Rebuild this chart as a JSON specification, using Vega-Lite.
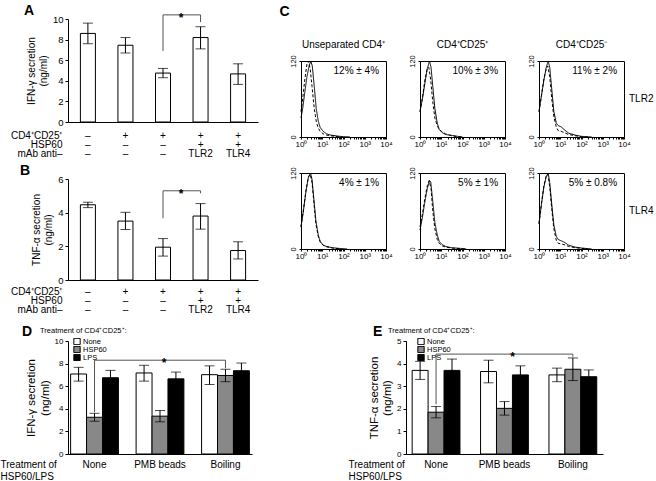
{
"$schema": "https://vega.github.io/schema/vega-lite/v6.json",
"padding": {"left": 0, "top": 3, "right": 0, "bottom": 0},
"spacing": 10,
"resolve": {"scale": {"fill": "independent"}, "legend": {"fill": "independent"}},
"vconcat": [
{"hconcat": [
 {"vconcat": [
  {"title": {"text": "A", "frame": "group", "dx": -44, "offset": -6},
   "width": 190, "height": 103, "view": {"stroke": null},
   "data": {"values": [
    {"k": "1|–|–|–", "v": 8.6, "lo": 7.6, "hi": 9.6},
    {"k": "2|+|–|–", "v": 7.45, "lo": 6.7, "hi": 8.2},
    {"k": "3|+|–|–", "v": 4.75, "lo": 4.3, "hi": 5.2},
    {"k": "4|+|+|TLR2", "v": 8.2, "lo": 7.1, "hi": 9.25},
    {"k": "5|+|+|TLR4", "v": 4.67, "lo": 3.65, "hi": 5.65}]},
   "encoding": {"x": {"field": "k", "type": "nominal", "sort": null,
     "scale": {"paddingInner": 0.6, "paddingOuter": 0.33},
     "axis": {"ticks": false, "labelAngle": 0, "labelExpr": "slice(split(datum.label,'|'),1)", "labelFontSize": 10, "labelLineHeight": 9, "labelPadding": 8,
       "title": ["CD4⁺CD25⁺", "HSP60", "mAb anti–"], "titleAlign": "right", "titleAnchor": "start", "titleX": -6, "titleY": 8, "titleBaseline": "top", "titleLineHeight": 9, "titleFontSize": 10}},
     "y": {"type": "quantitative", "scale": {"domain": [0, 10], "nice": false},
       "axis": {"values": [0, 2, 4, 6, 8, 10], "labelOverlap": false, "tickSize": 3, "labelFontSize": 9.5, "title": ["IFN-γ secretion", "(ng/ml)"], "titleFontSize": 10, "titlePadding": 4}}},
   "layer": [
    {"mark": {"type": "bar", "fill": "white", "stroke": "black", "strokeWidth": 1}, "encoding": {"y": {"field": "v"}}},
    {"mark": {"type": "rule", "color": "black"}, "encoding": {"y": {"field": "lo"}, "y2": {"field": "hi"}}},
    {"mark": {"type": "tick", "color": "black", "size": 10, "thickness": 1}, "encoding": {"y": {"field": "lo"}}},
    {"mark": {"type": "tick", "color": "black", "size": 10, "thickness": 1}, "encoding": {"y": {"field": "hi"}}},
    {"data": {"values": [
      {"k": "3|+|–|–", "y": 6.9, "o": 1}, {"k": "3|+|–|–", "y": 10.4, "o": 2},
      {"k": "4|+|+|TLR2", "y": 10.4, "o": 3}, {"k": "4|+|+|TLR2", "y": 9.7, "o": 4}]},
     "mark": {"type": "line", "color": "#555", "strokeWidth": 1},
     "encoding": {"y": {"field": "y"}, "order": {"field": "o"}}},
    {"data": {"values": [{"k": "3|+|–|–", "y": 10.4, "m": "*"}]},
     "mark": {"type": "text", "dx": 18, "dy": 3, "fontSize": 12, "fontWeight": "bold"},
     "encoding": {"y": {"field": "y"}, "text": {"field": "m"}}}
   ]},
  {"title": {"text": "B", "frame": "group", "dx": -48, "offset": -4},
   "width": 190, "height": 101, "view": {"stroke": null},
   "data": {"values": [
    {"k": "1|–|–|–", "v": 4.47, "lo": 4.3, "hi": 4.62},
    {"k": "2|+|–|–", "v": 3.5, "lo": 3.0, "hi": 4.02},
    {"k": "3|+|–|–", "v": 1.95, "lo": 1.42, "hi": 2.46},
    {"k": "4|+|+|TLR2", "v": 3.8, "lo": 3.02, "hi": 4.54},
    {"k": "5|+|+|TLR4", "v": 1.75, "lo": 1.25, "hi": 2.27}]},
   "encoding": {"x": {"field": "k", "type": "nominal", "sort": null,
     "scale": {"paddingInner": 0.6, "paddingOuter": 0.33},
     "axis": {"ticks": false, "labelAngle": 0, "labelExpr": "slice(split(datum.label,'|'),1)", "labelFontSize": 10, "labelLineHeight": 9, "labelPadding": 6,
       "title": ["CD4⁺CD25⁺", "HSP60", "mAb anti–"], "titleAlign": "right", "titleAnchor": "start", "titleX": -6, "titleY": 6, "titleBaseline": "top", "titleLineHeight": 9, "titleFontSize": 10}},
     "y": {"type": "quantitative", "scale": {"domain": [0, 6], "nice": false},
       "axis": {"values": [0, 2, 4, 6], "labelOverlap": false, "tickSize": 3, "labelFontSize": 9.5, "title": ["TNF-α secretion", "(ng/ml)"], "titleFontSize": 10, "titlePadding": 4}}},
   "layer": [
    {"mark": {"type": "bar", "fill": "white", "stroke": "black", "strokeWidth": 1}, "encoding": {"y": {"field": "v"}}},
    {"mark": {"type": "rule", "color": "black"}, "encoding": {"y": {"field": "lo"}, "y2": {"field": "hi"}}},
    {"mark": {"type": "tick", "color": "black", "size": 10, "thickness": 1}, "encoding": {"y": {"field": "lo"}}},
    {"mark": {"type": "tick", "color": "black", "size": 10, "thickness": 1}, "encoding": {"y": {"field": "hi"}}},
    {"data": {"values": [
      {"k": "3|+|–|–", "y": 3.67, "o": 1}, {"k": "3|+|–|–", "y": 5.3, "o": 2},
      {"k": "4|+|+|TLR2", "y": 5.3, "o": 3}, {"k": "4|+|+|TLR2", "y": 5.15, "o": 4}]},
     "mark": {"type": "line", "color": "#555", "strokeWidth": 1},
     "encoding": {"y": {"field": "y"}, "order": {"field": "o"}}},
    {"data": {"values": [{"k": "3|+|–|–", "y": 5.3, "m": "*"}]},
     "mark": {"type": "text", "dx": 18, "dy": 3, "fontSize": 12, "fontWeight": "bold"},
     "encoding": {"y": {"field": "y"}, "text": {"field": "m"}}}
   ]}
 ], "spacing": 6},
 {"vconcat": [
  {"width": 1, "height": 1, "view": {"stroke": null},
   "data": {"values": [{"panel": "C"}]},
   "mark": {"type": "text", "align": "right", "baseline": "alphabetic", "fontSize": 14, "fontWeight": "bold", "dx": -12, "dy": -4},
   "encoding": {"text": {"field": "panel"}}},
  {
  "data": {"values": [
   {"p":"U","r":"TLR2","s":"a","x":1,"y":30},{"p":"U","r":"TLR2","s":"a","x":1.2,"y":45},{"p":"U","r":"TLR2","s":"a","x":1.5,"y":70},{"p":"U","r":"TLR2","s":"a","x":1.9,"y":95},{"p":"U","r":"TLR2","s":"a","x":2.4,"y":112},{"p":"U","r":"TLR2","s":"a","x":2.9,"y":120},{"p":"U","r":"TLR2","s":"a","x":3.4,"y":112},{"p":"U","r":"TLR2","s":"a","x":4.2,"y":80},{"p":"U","r":"TLR2","s":"a","x":5.2,"y":45},{"p":"U","r":"TLR2","s":"a","x":6.5,"y":25},{"p":"U","r":"TLR2","s":"a","x":8,"y":15},{"p":"U","r":"TLR2","s":"a","x":11,"y":9},{"p":"U","r":"TLR2","s":"a","x":16,"y":5},{"p":"U","r":"TLR2","s":"a","x":25,"y":3},{"p":"U","r":"TLR2","s":"a","x":50,"y":1.5},{"p":"U","r":"TLR2","s":"a","x":100,"y":0.5},{"p":"U","r":"TLR2","s":"a","x":200,"y":0},
   {"p":"U","r":"TLR2","s":"b","x":1,"y":40},{"p":"U","r":"TLR2","s":"b","x":1.2,"y":60},{"p":"U","r":"TLR2","s":"b","x":1.5,"y":90},{"p":"U","r":"TLR2","s":"b","x":1.9,"y":115},{"p":"U","r":"TLR2","s":"b","x":2.2,"y":120},{"p":"U","r":"TLR2","s":"b","x":2.7,"y":108},{"p":"U","r":"TLR2","s":"b","x":3.3,"y":80},{"p":"U","r":"TLR2","s":"b","x":4.2,"y":45},{"p":"U","r":"TLR2","s":"b","x":5.2,"y":25},{"p":"U","r":"TLR2","s":"b","x":6.5,"y":14},{"p":"U","r":"TLR2","s":"b","x":8,"y":9},{"p":"U","r":"TLR2","s":"b","x":11,"y":5},{"p":"U","r":"TLR2","s":"b","x":16,"y":3},{"p":"U","r":"TLR2","s":"b","x":30,"y":1.5},{"p":"U","r":"TLR2","s":"b","x":80,"y":0},
   {"p":"P","r":"TLR2","s":"a","x":1,"y":40},{"p":"P","r":"TLR2","s":"a","x":1.3,"y":60},{"p":"P","r":"TLR2","s":"a","x":1.7,"y":85},{"p":"P","r":"TLR2","s":"a","x":2.2,"y":108},{"p":"P","r":"TLR2","s":"a","x":2.8,"y":120},{"p":"P","r":"TLR2","s":"a","x":3.3,"y":110},{"p":"P","r":"TLR2","s":"a","x":4,"y":80},{"p":"P","r":"TLR2","s":"a","x":5,"y":45},{"p":"P","r":"TLR2","s":"a","x":6.5,"y":22},{"p":"P","r":"TLR2","s":"a","x":8,"y":12},{"p":"P","r":"TLR2","s":"a","x":11,"y":7},{"p":"P","r":"TLR2","s":"a","x":16,"y":4},{"p":"P","r":"TLR2","s":"a","x":25,"y":3},{"p":"P","r":"TLR2","s":"a","x":40,"y":2},{"p":"P","r":"TLR2","s":"a","x":60,"y":1},{"p":"P","r":"TLR2","s":"a","x":100,"y":0},
   {"p":"P","r":"TLR2","s":"b","x":1,"y":40},{"p":"P","r":"TLR2","s":"b","x":1.3,"y":62},{"p":"P","r":"TLR2","s":"b","x":1.7,"y":90},{"p":"P","r":"TLR2","s":"b","x":2.2,"y":108},{"p":"P","r":"TLR2","s":"b","x":2.6,"y":110},{"p":"P","r":"TLR2","s":"b","x":3.2,"y":90},{"p":"P","r":"TLR2","s":"b","x":4,"y":55},{"p":"P","r":"TLR2","s":"b","x":5,"y":30},{"p":"P","r":"TLR2","s":"b","x":6.5,"y":18},{"p":"P","r":"TLR2","s":"b","x":8,"y":12},{"p":"P","r":"TLR2","s":"b","x":11,"y":8},{"p":"P","r":"TLR2","s":"b","x":16,"y":5},{"p":"P","r":"TLR2","s":"b","x":30,"y":2},{"p":"P","r":"TLR2","s":"b","x":60,"y":0.5},{"p":"P","r":"TLR2","s":"b","x":100,"y":0},
   {"p":"M","r":"TLR2","s":"a","x":1,"y":40},{"p":"M","r":"TLR2","s":"a","x":1.3,"y":65},{"p":"M","r":"TLR2","s":"a","x":1.7,"y":90},{"p":"M","r":"TLR2","s":"a","x":2.2,"y":110},{"p":"M","r":"TLR2","s":"a","x":2.7,"y":120},{"p":"M","r":"TLR2","s":"a","x":3.2,"y":110},{"p":"M","r":"TLR2","s":"a","x":4,"y":75},{"p":"M","r":"TLR2","s":"a","x":5,"y":40},{"p":"M","r":"TLR2","s":"a","x":6.5,"y":22},{"p":"M","r":"TLR2","s":"a","x":8,"y":18},{"p":"M","r":"TLR2","s":"a","x":11,"y":16},{"p":"M","r":"TLR2","s":"a","x":15,"y":12},{"p":"M","r":"TLR2","s":"a","x":25,"y":6},{"p":"M","r":"TLR2","s":"a","x":50,"y":3},{"p":"M","r":"TLR2","s":"a","x":100,"y":1},{"p":"M","r":"TLR2","s":"a","x":300,"y":0},
   {"p":"M","r":"TLR2","s":"b","x":1,"y":40},{"p":"M","r":"TLR2","s":"b","x":1.3,"y":65},{"p":"M","r":"TLR2","s":"b","x":1.7,"y":92},{"p":"M","r":"TLR2","s":"b","x":2.2,"y":108},{"p":"M","r":"TLR2","s":"b","x":2.6,"y":112},{"p":"M","r":"TLR2","s":"b","x":3.2,"y":95},{"p":"M","r":"TLR2","s":"b","x":4,"y":60},{"p":"M","r":"TLR2","s":"b","x":5,"y":32},{"p":"M","r":"TLR2","s":"b","x":6.5,"y":16},{"p":"M","r":"TLR2","s":"b","x":8,"y":10},{"p":"M","r":"TLR2","s":"b","x":11,"y":9},{"p":"M","r":"TLR2","s":"b","x":15,"y":7},{"p":"M","r":"TLR2","s":"b","x":25,"y":4},{"p":"M","r":"TLR2","s":"b","x":50,"y":2},{"p":"M","r":"TLR2","s":"b","x":100,"y":0.5},{"p":"M","r":"TLR2","s":"b","x":200,"y":0},
   {"p":"U","r":"TLR4","s":"a","x":1,"y":35},{"p":"U","r":"TLR4","s":"a","x":1.3,"y":60},{"p":"U","r":"TLR4","s":"a","x":1.7,"y":90},{"p":"U","r":"TLR4","s":"a","x":2.2,"y":112},{"p":"U","r":"TLR4","s":"a","x":2.8,"y":120},{"p":"U","r":"TLR4","s":"a","x":3.3,"y":110},{"p":"U","r":"TLR4","s":"a","x":4,"y":80},{"p":"U","r":"TLR4","s":"a","x":5,"y":45},{"p":"U","r":"TLR4","s":"a","x":6.5,"y":22},{"p":"U","r":"TLR4","s":"a","x":8,"y":12},{"p":"U","r":"TLR4","s":"a","x":11,"y":6},{"p":"U","r":"TLR4","s":"a","x":16,"y":4},{"p":"U","r":"TLR4","s":"a","x":30,"y":2},{"p":"U","r":"TLR4","s":"a","x":60,"y":1},{"p":"U","r":"TLR4","s":"a","x":150,"y":0},
   {"p":"U","r":"TLR4","s":"b","x":1,"y":35},{"p":"U","r":"TLR4","s":"b","x":1.3,"y":62},{"p":"U","r":"TLR4","s":"b","x":1.7,"y":92},{"p":"U","r":"TLR4","s":"b","x":2.2,"y":114},{"p":"U","r":"TLR4","s":"b","x":2.7,"y":118},{"p":"U","r":"TLR4","s":"b","x":3.3,"y":105},{"p":"U","r":"TLR4","s":"b","x":4,"y":75},{"p":"U","r":"TLR4","s":"b","x":5,"y":40},{"p":"U","r":"TLR4","s":"b","x":6.5,"y":20},{"p":"U","r":"TLR4","s":"b","x":8,"y":11},{"p":"U","r":"TLR4","s":"b","x":11,"y":6},{"p":"U","r":"TLR4","s":"b","x":16,"y":3.5},{"p":"U","r":"TLR4","s":"b","x":30,"y":1.5},{"p":"U","r":"TLR4","s":"b","x":80,"y":0},
   {"p":"P","r":"TLR4","s":"a","x":1,"y":30},{"p":"P","r":"TLR4","s":"a","x":1.3,"y":50},{"p":"P","r":"TLR4","s":"a","x":1.7,"y":75},{"p":"P","r":"TLR4","s":"a","x":2.2,"y":95},{"p":"P","r":"TLR4","s":"a","x":2.8,"y":108},{"p":"P","r":"TLR4","s":"a","x":3.2,"y":106},{"p":"P","r":"TLR4","s":"a","x":4,"y":75},{"p":"P","r":"TLR4","s":"a","x":5,"y":42},{"p":"P","r":"TLR4","s":"a","x":6.5,"y":22},{"p":"P","r":"TLR4","s":"a","x":8,"y":12},{"p":"P","r":"TLR4","s":"a","x":11,"y":7},{"p":"P","r":"TLR4","s":"a","x":16,"y":4},{"p":"P","r":"TLR4","s":"a","x":30,"y":2},{"p":"P","r":"TLR4","s":"a","x":80,"y":1},{"p":"P","r":"TLR4","s":"a","x":150,"y":0},
   {"p":"P","r":"TLR4","s":"b","x":1,"y":35},{"p":"P","r":"TLR4","s":"b","x":1.3,"y":55},{"p":"P","r":"TLR4","s":"b","x":1.7,"y":80},{"p":"P","r":"TLR4","s":"b","x":2.2,"y":100},{"p":"P","r":"TLR4","s":"b","x":2.7,"y":108},{"p":"P","r":"TLR4","s":"b","x":3.3,"y":95},{"p":"P","r":"TLR4","s":"b","x":4,"y":60},{"p":"P","r":"TLR4","s":"b","x":5,"y":32},{"p":"P","r":"TLR4","s":"b","x":6.5,"y":15},{"p":"P","r":"TLR4","s":"b","x":8,"y":9},{"p":"P","r":"TLR4","s":"b","x":11,"y":5},{"p":"P","r":"TLR4","s":"b","x":16,"y":3},{"p":"P","r":"TLR4","s":"b","x":30,"y":1.5},{"p":"P","r":"TLR4","s":"b","x":80,"y":0.5},{"p":"P","r":"TLR4","s":"b","x":150,"y":0},
   {"p":"M","r":"TLR4","s":"a","x":1,"y":40},{"p":"M","r":"TLR4","s":"a","x":1.3,"y":70},{"p":"M","r":"TLR4","s":"a","x":1.7,"y":98},{"p":"M","r":"TLR4","s":"a","x":2.2,"y":115},{"p":"M","r":"TLR4","s":"a","x":2.7,"y":120},{"p":"M","r":"TLR4","s":"a","x":3.2,"y":105},{"p":"M","r":"TLR4","s":"a","x":4,"y":70},{"p":"M","r":"TLR4","s":"a","x":5,"y":38},{"p":"M","r":"TLR4","s":"a","x":6.5,"y":20},{"p":"M","r":"TLR4","s":"a","x":8,"y":15},{"p":"M","r":"TLR4","s":"a","x":11,"y":13},{"p":"M","r":"TLR4","s":"a","x":15,"y":11},{"p":"M","r":"TLR4","s":"a","x":25,"y":6},{"p":"M","r":"TLR4","s":"a","x":50,"y":3},{"p":"M","r":"TLR4","s":"a","x":100,"y":1.5},{"p":"M","r":"TLR4","s":"a","x":300,"y":0},
   {"p":"M","r":"TLR4","s":"b","x":1,"y":40},{"p":"M","r":"TLR4","s":"b","x":1.3,"y":72},{"p":"M","r":"TLR4","s":"b","x":1.7,"y":100},{"p":"M","r":"TLR4","s":"b","x":2.2,"y":116},{"p":"M","r":"TLR4","s":"b","x":2.6,"y":118},{"p":"M","r":"TLR4","s":"b","x":3.2,"y":98},{"p":"M","r":"TLR4","s":"b","x":4,"y":62},{"p":"M","r":"TLR4","s":"b","x":5,"y":32},{"p":"M","r":"TLR4","s":"b","x":6.5,"y":14},{"p":"M","r":"TLR4","s":"b","x":8,"y":9},{"p":"M","r":"TLR4","s":"b","x":11,"y":8},{"p":"M","r":"TLR4","s":"b","x":15,"y":7},{"p":"M","r":"TLR4","s":"b","x":25,"y":4},{"p":"M","r":"TLR4","s":"b","x":50,"y":2},{"p":"M","r":"TLR4","s":"b","x":100,"y":1},{"p":"M","r":"TLR4","s":"b","x":200,"y":0},
   {"p":"U","r":"TLR2","t":"12% ± 4%"},{"p":"P","r":"TLR2","t":"10% ± 3%"},{"p":"M","r":"TLR2","t":"11% ± 2%"},
   {"p":"U","r":"TLR4","t":"4% ± 1%"},{"p":"P","r":"TLR4","t":"5% ± 1%"},{"p":"M","r":"TLR4","t":"5% ± 0.8%"}
  ]},
  "facet": {
   "column": {"field": "p", "type": "nominal", "sort": ["U", "P", "M"],
     "header": {"title": null, "labelFontSize": 10, "labelPadding": 4, "labelExpr": "datum.value == 'U' ? 'Unseparated CD4⁺' : datum.value == 'P' ? 'CD4⁺CD25⁺' : 'CD4⁺CD25⁻'"}},
   "row": {"field": "r", "type": "nominal", "sort": ["TLR2", "TLR4"],
     "header": {"title": null, "labelOrient": "right", "labelAngle": 0, "labelFontSize": 10, "labelPadding": -2}}
  },
  "spacing": {"column": 14, "row": 17},
  "resolve": {"axis": {"x": "independent", "y": "independent"}},
  "spec": {
   "width": 85, "height": 76,
   "layer": [
    {"transform": [{"filter": "!datum.t"}],
     "mark": {"type": "line", "strokeWidth": 1, "color": "black"},
     "encoding": {
      "x": {"field": "x", "type": "quantitative", "scale": {"type": "log", "domain": [1, 10000]},
        "axis": {"title": null, "values": [1,2,3,4,5,6,7,8,9,10,20,30,40,50,60,70,80,90,100,200,300,400,500,600,700,800,900,1000,2000,3000,4000,5000,6000,7000,8000,9000,10000],
          "labelExpr": "datum.value == 1 ? '10⁰' : datum.value == 10 ? '10¹' : datum.value == 100 ? '10²' : datum.value == 1000 ? '10³' : datum.value == 10000 ? '10⁴' : ''",
          "labelFontSize": 8, "labelPadding": 1, "tickSize": 2, "labelFlush": false, "labelOverlap": false}},
      "y": {"field": "y", "type": "quantitative", "scale": {"domain": [0, 120], "nice": false},
        "axis": {"title": null, "values": [0,10,20,30,40,50,60,70,80,90,100,110,120], "labelExpr": "datum.value == 0 || datum.value == 120 ? datum.label : ''", "labelAngle": -90, "labelFontSize": 7.5, "tickSize": 2, "labelPadding": 2, "labelOverlap": false}},
      "strokeDash": {"field": "s", "type": "nominal", "scale": {"domain": ["a", "b"], "range": [[1, 0], [3, 2]]}, "legend": null}
     }},
    {"transform": [{"filter": "datum.t"}],
     "mark": {"type": "text", "align": "right", "baseline": "middle", "fontSize": 10},
     "encoding": {"x": {"datum": 4700, "type": "quantitative"}, "y": {"datum": 104, "type": "quantitative"}, "text": {"field": "t"}}}
   ]
  }
 }], "spacing": 20}
], "spacing": 21},
{"hconcat": [
 {"vconcat": [
 {"title": {"text": "Treatment of CD4⁺CD25⁺:", "fontSize": 7.5, "fontWeight": "normal", "frame": "group", "dx": -28, "offset": 3},
  "width": 184, "height": 113, "view": {"stroke": null},
  "data": {"values": [
   {"g": "None", "t": "None", "v": 7.08, "lo": 6.45, "hi": 7.67},
   {"g": "None", "t": "HSP60", "v": 3.25, "lo": 2.9, "hi": 3.6},
   {"g": "None", "t": "LPS", "v": 6.75, "lo": 6.1, "hi": 7.4},
   {"g": "PMB beads", "t": "None", "v": 7.17, "lo": 6.45, "hi": 7.85},
   {"g": "PMB beads", "t": "HSP60", "v": 3.35, "lo": 2.85, "hi": 3.85},
   {"g": "PMB beads", "t": "LPS", "v": 6.65, "lo": 6.05, "hi": 7.25},
   {"g": "Boiling", "t": "None", "v": 7.02, "lo": 6.15, "hi": 7.8},
   {"g": "Boiling", "t": "HSP60", "v": 6.95, "lo": 6.4, "hi": 7.5},
   {"g": "Boiling", "t": "LPS", "v": 7.37, "lo": 6.65, "hi": 8.05}]},
  "encoding": {
   "x": {"field": "g", "type": "nominal", "sort": ["None", "PMB beads", "Boiling"], "scale": {"paddingInner": 0.27, "paddingOuter": 0.04},
     "axis": {"ticks": false, "labelAngle": 0, "labelFontSize": 10, "labelPadding": 5,
       "title": ["Treatment of", "HSP60/LPS"], "titleAlign": "left", "titleAnchor": "start", "titleX": -68, "titleY": 5, "titleBaseline": "top", "titleLineHeight": 12, "titleFontSize": 10}},
   "xOffset": {"field": "t", "type": "nominal", "sort": ["None", "HSP60", "LPS"], "scale": {"paddingInner": 0, "paddingOuter": 0}},
   "y": {"type": "quantitative", "scale": {"domain": [0, 10], "nice": false},
      "axis": {"values": [0, 2, 4, 6, 8, 10], "labelOverlap": false, "tickSize": 3, "labelFontSize": 8, "title": ["IFN-γ secretion", "(ng/ml)"], "titleFontSize": 11.5, "titlePadding": 4}}},
  "layer": [
   {"mark": {"type": "bar", "stroke": "black", "strokeWidth": 1},
    "encoding": {"y": {"field": "v"},
     "fill": {"field": "t", "type": "nominal", "scale": {"domain": ["None", "HSP60", "LPS"], "range": ["white", "#888888", "black"]},
      "legend": {"orient": "none", "legendX": 5, "legendY": -3, "title": null, "clipHeight": 7, "rowPadding": 0,
        "symbolType": "square", "symbolSize": 40, "symbolStrokeColor": "black", "symbolStrokeWidth": 1, "labelFontSize": 7.5, "labelOffset": 2, "padding": 0}}}},
   {"mark": {"type": "rule", "color": "black"}, "encoding": {"y": {"field": "lo"}, "y2": {"field": "hi"}}},
   {"mark": {"type": "tick", "color": "black", "size": 10, "thickness": 1}, "encoding": {"y": {"field": "lo"}}},
   {"mark": {"type": "tick", "color": "black", "size": 10, "thickness": 1}, "encoding": {"y": {"field": "hi"}}},
   {"data": {"values": [
     {"g": "None", "t": "HSP60", "y": 3.7, "o": 1}, {"g": "None", "t": "HSP60", "y": 8.3, "o": 2},
     {"g": "Boiling", "t": "HSP60", "y": 8.3, "o": 3}, {"g": "Boiling", "t": "HSP60", "y": 7.6, "o": 4}]},
    "mark": {"type": "line", "color": "#555", "strokeWidth": 1},
    "encoding": {"y": {"field": "y"}, "order": {"field": "o"}}},
   {"data": {"values": [{"g": "PMB beads", "t": "HSP60", "y": 8.3, "m": "*"}]},
    "mark": {"type": "text", "dx": 4, "dy": 3, "fontSize": 12, "fontWeight": "bold"},
    "encoding": {"y": {"field": "y"}, "text": {"field": "m"}}}
  ]}], "title": {"text": "D", "frame": "bounds", "anchor": "start", "dx": 22, "offset": -12}},
 {"vconcat": [
 {"title": {"text": "Treatment of CD4⁺CD25⁺:", "fontSize": 7.5, "fontWeight": "normal", "frame": "group", "dx": -18, "offset": 3},
  "width": 197, "height": 113, "view": {"stroke": null},
  "data": {"values": [
   {"g": "None", "t": "None", "v": 3.7, "lo": 3.3, "hi": 4.1},
   {"g": "None", "t": "HSP60", "v": 1.85, "lo": 1.6, "hi": 2.1},
   {"g": "None", "t": "LPS", "v": 3.7, "lo": 3.2, "hi": 4.2},
   {"g": "PMB beads", "t": "None", "v": 3.65, "lo": 3.15, "hi": 4.15},
   {"g": "PMB beads", "t": "HSP60", "v": 2.02, "lo": 1.72, "hi": 2.32},
   {"g": "PMB beads", "t": "LPS", "v": 3.5, "lo": 3.1, "hi": 3.9},
   {"g": "Boiling", "t": "None", "v": 3.5, "lo": 3.2, "hi": 3.8},
   {"g": "Boiling", "t": "HSP60", "v": 3.75, "lo": 3.25, "hi": 4.25},
   {"g": "Boiling", "t": "LPS", "v": 3.42, "lo": 3.12, "hi": 3.72}]},
  "encoding": {
   "x": {"field": "g", "type": "nominal", "sort": ["None", "PMB beads", "Boiling"], "scale": {"paddingInner": 0.3, "paddingOuter": 0.09},
     "axis": {"ticks": false, "labelAngle": 0, "labelFontSize": 10, "labelPadding": 5,
       "title": ["Treatment of", "HSP60/LPS"], "titleAlign": "left", "titleAnchor": "start", "titleX": -58, "titleY": 5, "titleBaseline": "top", "titleLineHeight": 12, "titleFontSize": 10}},
   "xOffset": {"field": "t", "type": "nominal", "sort": ["None", "HSP60", "LPS"], "scale": {"paddingInner": 0, "paddingOuter": 0}},
   "y": {"type": "quantitative", "scale": {"domain": [0, 5], "nice": false},
      "axis": {"values": [0, 1, 2, 3, 4, 5], "labelOverlap": false, "tickSize": 3, "labelFontSize": 8, "title": ["TNF-α secretion", "(ng/ml)"], "titleFontSize": 11.5, "titlePadding": 4}}},
  "layer": [
   {"mark": {"type": "bar", "stroke": "black", "strokeWidth": 1},
    "encoding": {"y": {"field": "v"},
     "fill": {"field": "t", "type": "nominal", "scale": {"domain": ["None", "HSP60", "LPS"], "range": ["white", "#888888", "black"]},
      "legend": {"orient": "none", "legendX": 11, "legendY": -3, "title": null, "clipHeight": 7, "rowPadding": 0,
        "symbolType": "square", "symbolSize": 40, "symbolStrokeColor": "black", "symbolStrokeWidth": 1, "labelFontSize": 7.5, "labelOffset": 2, "padding": 0}}}},
   {"mark": {"type": "rule", "color": "black"}, "encoding": {"y": {"field": "lo"}, "y2": {"field": "hi"}}},
   {"mark": {"type": "tick", "color": "black", "size": 10, "thickness": 1}, "encoding": {"y": {"field": "lo"}}},
   {"mark": {"type": "tick", "color": "black", "size": 10, "thickness": 1}, "encoding": {"y": {"field": "hi"}}},
   {"data": {"values": [
     {"g": "None", "t": "HSP60", "y": 2.2, "o": 1}, {"g": "None", "t": "HSP60", "y": 4.42, "o": 2},
     {"g": "Boiling", "t": "HSP60", "y": 4.42, "o": 3}, {"g": "Boiling", "t": "HSP60", "y": 4.3, "o": 4}]},
    "mark": {"type": "line", "color": "#555", "strokeWidth": 1},
    "encoding": {"y": {"field": "y"}, "order": {"field": "o"}}},
   {"data": {"values": [{"g": "PMB beads", "t": "HSP60", "y": 4.42, "m": "*"}]},
    "mark": {"type": "text", "dx": 8, "dy": 3, "fontSize": 12, "fontWeight": "bold"},
    "encoding": {"y": {"field": "y"}, "text": {"field": "m"}}}
  ]}], "title": {"text": "E", "frame": "bounds", "anchor": "start", "dx": 25, "offset": -12}}
], "spacing": 96, "resolve": {"scale": {"fill": "independent"}, "legend": {"fill": "independent"}}}
],
"config": {
 "font": "Liberation Sans",
 "view": {"stroke": "black", "strokeWidth": 1},
 "axis": {"grid": false, "domainColor": "black", "tickColor": "black", "labelColor": "black", "titleColor": "black", "titleFontWeight": "normal"},
 "title": {"fontSize": 14, "fontWeight": "bold", "anchor": "start", "color": "black"},
 "header": {"labelColor": "black", "titleColor": "black"}
}
}
